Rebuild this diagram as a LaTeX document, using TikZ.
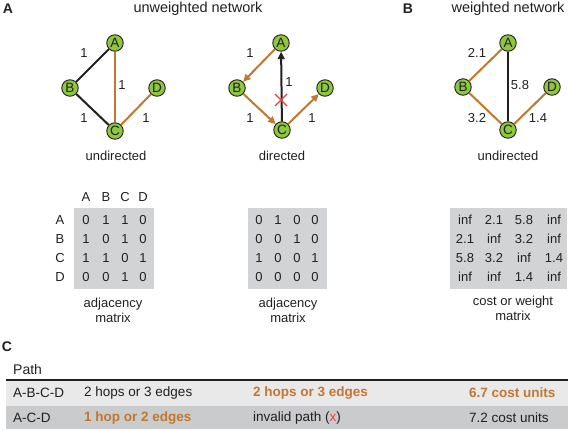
\documentclass[tikz,border=0pt]{standalone}
\usepackage{fontspec}
\setmainfont{Liberation Sans}
\usetikzlibrary{arrows.meta}
\definecolor{brn}{HTML}{C1772F}
\definecolor{grn}{HTML}{8DC63F}
\definecolor{txt}{HTML}{231F20}
\definecolor{boxg}{HTML}{D1D3D4}
\definecolor{rowa}{HTML}{E9E9EA}
\definecolor{rowb}{HTML}{C9CBCC}
\definecolor{xred}{HTML}{EF4135}
\tikzset{
  vert/.style={circle,draw=txt,line width=0.9pt,fill=grn,minimum size=16.5pt,inner sep=0pt,font=\fontsize{13.5}{13.5}\selectfont,text=txt},
  lab/.style={font=\fontsize{13}{13}\selectfont,text=txt,inner sep=0pt},
  ttl/.style={font=\fontsize{14.5}{14.5}\selectfont,text=txt,inner sep=0pt},
  pnl/.style={font=\bfseries\fontsize{14}{14}\selectfont,text=txt,inner sep=0pt},
  edk/.style={line width=2pt,draw=txt},
  edo/.style={line width=2pt,draw=brn},
  arr/.style={-{Triangle[length=7.5pt,width=7pt]}},
  mtx/.style={font=\fontsize{13}{13}\selectfont,text=txt,inner sep=0pt},
  trow/.style={font=\fontsize{13.5}{13.5}\selectfont,text=txt,inner sep=0pt,anchor=west},
  tbold/.style={font=\bfseries\fontsize{13.5}{13.5}\selectfont,text=brn,inner sep=0pt,anchor=west},
}
\begin{document}
\begin{tikzpicture}[x=1pt,y=-1pt]
\useasboundingbox (0,0) rectangle (571,431);
% panel labels and titles
\node[pnl] (pA) at (8,9) {A};
\node[pnl] (pB) at (408,9) {B};
\node[pnl] (pC) at (7,347) {C};
\node[ttl] (t1) at (198,9) {unweighted network};
\node[ttl] (t2) at (508,9) {weighted network};

% graph 1 undirected
\node[vert] (a1) at (115,43) {A};
\node[vert] (b1) at (70,88) {B};
\node[vert] (c1) at (115,131) {C};
\node[vert] (d1) at (157,88) {D};
\draw[edk] (b1) -- (a1);
\draw[edk] (b1) -- (c1);
\draw[edo] (a1) -- (c1);
\draw[edo] (c1) -- (d1);
\node[lab] (l11) at (84,53) {1};
\node[lab] (l12) at (122,85) {1};
\node[lab] (l13) at (84,118) {1};
\node[lab] (l14) at (146,118) {1};
\node[lab] (u1) at (116,156) {undirected};

% graph 2 directed
\node[vert] (a2) at (281,43) {A};
\node[vert] (b2) at (237,88) {B};
\node[vert] (c2) at (282,130) {C};
\node[vert] (d2) at (325,88) {D};
\draw[edo,arr] (a2) -- (b2);
\draw[edo,arr] (b2) -- (c2);
\draw[edk,arr] (c2) -- (a2);
\draw[edo,arr] (c2) -- (d2);
\node[lab] (l21) at (250,53) {1};
\node[lab] (l22) at (289,82) {1};
\node[lab] (l23) at (250,118) {1};
\node[lab] (l24) at (312,118) {1};
\coordinate (xc) at (281,100);
\draw[xred,line width=1.2pt] ([shift={(-6,-6)}]xc) -- ([shift={(6,6)}]xc);
\draw[xred,line width=1.2pt] ([shift={(-6,6)}]xc) -- ([shift={(6,-6)}]xc);
\node[lab] (u2) at (282,156) {directed};

% graph 3 weighted
\node[vert] (a3) at (508,43) {A};
\node[vert] (b3) at (463,87) {B};
\node[vert] (c3) at (508,130) {C};
\node[vert] (d3) at (552,87) {D};
\draw[edo] (b3) -- (a3);
\draw[edo] (b3) -- (c3);
\draw[edk] (a3) -- (c3);
\draw[edo] (c3) -- (d3);
\node[lab] (l31) at (477,53) {2.1};
\node[lab] (l32) at (520,85) {5.8};
\node[lab] (l33) at (477,118) {3.2};
\node[lab] (l34) at (538,118) {1.4};
\node[lab] (u3) at (508,156) {undirected};

% matrix 1
\fill[boxg] (74,208) rectangle (154,289);
\foreach \c/\x in {A/86,B/106,C/125,D/143} \node[mtx] (h\c) at (\x,197) {\c};
\foreach \c/\y in {A/220,B/239,C/258,D/277} \node[mtx] (r\c) at (60,\y) {\c};
\foreach \y/\p/\q/\r/\s in {220/0/1/1/0,239/1/0/1/0,258/1/1/0/1,277/0/0/1/0}{
  \node[mtx] at (86,\y) {\p};
  \node[mtx] at (106,\y) {\q};
  \node[mtx] at (125,\y) {\r};
  \node[mtx] at (143,\y) {\s};
}
\node[lab,align=center] (m1) at (113,310) {adjacency\\[2pt]matrix};

% matrix 2
\fill[boxg] (248,208) rectangle (327,289);
\foreach \y/\p/\q/\r/\s in {220/0/1/0/0,239/0/0/1/0,258/1/0/0/1,277/0/0/0/0}{
  \node[mtx] at (259,\y) {\p};
  \node[mtx] at (278,\y) {\q};
  \node[mtx] at (297,\y) {\r};
  \node[mtx] at (315,\y) {\s};
}
\node[lab,align=center] (m2) at (288,310) {adjacency\\[2pt]matrix};

% matrix 3
\fill[boxg] (450,208) rectangle (567,289);
\foreach \y/\p/\q/\r/\s in {220/inf/2.1/5.8/inf,239/2.1/inf/3.2/inf,258/5.8/3.2/inf/1.4,277/inf/inf/1.4/inf}{
  \node[mtx] at (465,\y) {\p};
  \node[mtx] at (494,\y) {\q};
  \node[mtx] at (524,\y) {\r};
  \node[mtx] at (554,\y) {\s};
}
\node[lab,align=center] (m3) at (513,308) {cost or weight\\[2pt]matrix};

% table C
\node[trow,font=\fontsize{14}{14}\selectfont] (path) at (13,369) {Path};
\fill[rowa] (6,381) rectangle (568,406);
\fill[rowb] (6,406) rectangle (568,429);
\draw[txt,line width=2pt] (6,380) -- (568,380);
\node[trow] (r1a) at (13,393) {A-B-C-D};
\node[trow] (r1b) at (84,393) {2 hops or 3 edges};
\node[tbold] (r1c) at (253,393) {2 hops or 3 edges};
\node[tbold] (r1d) at (469,393) {6.7 cost units};
\node[trow] (r2a) at (13,418) {A-C-D};
\node[tbold] (r2b) at (84,418) {1 hop or 2 edges};
\node[trow] (r2c) at (253,418) {invalid path (\textcolor{xred}{x})};
\node[trow] (r2d) at (469,418) {7.2 cost units};
\end{tikzpicture}
\end{document}
